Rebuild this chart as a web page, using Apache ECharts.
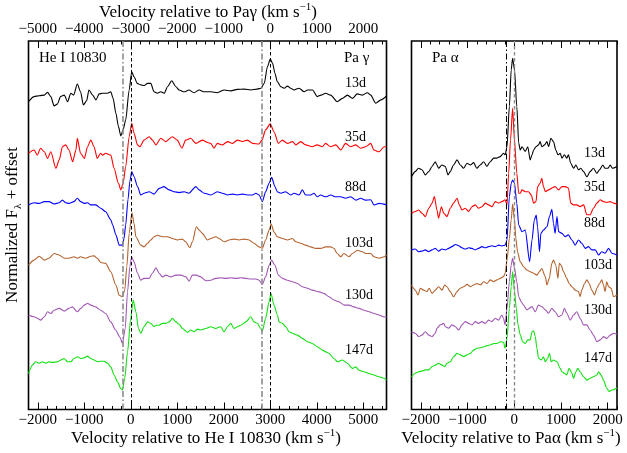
<!DOCTYPE html>
<html>
<head>
<meta charset="utf-8">
<script src="https://cdn.jsdelivr.net/npm/echarts@6/dist/echarts.min.js"></script>
<style>
  html, body { margin: 0; padding: 0; background: #fff; }
  #chart { width: 627px; height: 453px; }
</style>
</head>
<body>
<div id="chart"></div>
<script>
// Epochs (days) shown in both panels, top to bottom
const epochs = ['13d', '35d', '88d', '103d', '130d', '147d'];

// He I 10830 / Pa gamma region: [velocity rel. to He I 10830 (km/s), normalized flux + offset]
const he13d = [[-2200,10.26],[-2080,10.43],[-1970,10.46],[-1860,10.48],[-1790,10.57],[-1720,10.43],[-1650,10.12],[-1580,10.18],[-1510,10.43],[-1430,10.48],[-1360,10.26],[-1290,10.54],[-1230,10.48],[-1150,10.85],[-1080,10.59],[-1020,10.15],[-950,10.29],[-900,10.65],[-820,10.48],[-750,10.32],[-680,10.52],[-610,10.54],[-500,10.54],[-430,10.59],[-380,10.37],[-320,9.87],[-265,9.43],[-215,9.12],[-165,9.32],[-110,9.65],[-35,10.65],[20,11.26],[70,11.09],[140,10.87],[215,10.82],[290,10.80],[360,10.87],[430,10.87],[500,10.59],[570,10.54],[645,10.59],[720,10.54],[790,10.76],[880,10.96],[970,10.76],[1040,10.65],[1150,10.59],[1250,10.65],[1360,10.56],[1470,10.65],[1580,10.59],[1720,10.59],[1860,10.56],[2010,10.65],[2150,10.62],[2290,10.67],[2440,10.68],[2580,10.65],[2720,10.68],[2800,10.71],[2870,10.87],[2940,11.43],[3000,11.68],[3050,11.54],[3100,11.21],[3150,10.93],[3230,10.76],[3300,10.71],[3370,10.78],[3440,10.71],[3510,10.65],[3620,10.71],[3730,10.59],[3800,10.65],[3910,10.65],[4010,10.43],[4090,10.48],[4190,10.54],[4300,10.48],[4440,10.26],[4550,10.37],[4660,10.48],[4770,10.37],[4870,10.52],[4980,10.48],[5090,10.56],[5160,10.48],[5270,10.21],[5380,10.32],[5500,10.45]];
const he35d = [[-2200,8.54],[-2080,8.65],[-2010,8.48],[-1940,8.71],[-1860,8.59],[-1790,8.37],[-1720,8.59],[-1610,8.04],[-1540,8.32],[-1470,8.76],[-1400,8.82],[-1330,8.65],[-1250,8.26],[-1180,8.65],[-1150,9.04],[-1080,8.54],[-1000,8.37],[-930,8.76],[-860,8.98],[-790,8.76],[-720,8.37],[-650,8.54],[-610,8.48],[-540,8.54],[-430,8.48],[-360,8.04],[-265,7.54],[-215,7.32],[-165,7.54],[-110,8.09],[-35,9.09],[20,9.54],[70,9.21],[145,8.82],[195,8.76],[285,8.98],[395,9.09],[465,8.98],[540,8.82],[645,9.04],[750,8.93],[895,9.09],[1000,8.98],[1100,8.71],[1180,8.98],[1290,9.04],[1400,8.87],[1540,8.98],[1650,8.90],[1720,8.87],[1790,8.71],[1860,8.87],[1970,8.82],[2080,8.93],[2190,8.87],[2290,8.98],[2400,8.93],[2510,8.98],[2620,8.87],[2760,8.85],[2820,8.98],[2900,9.32],[3000,9.52],[3080,9.26],[3175,8.87],[3260,8.98],[3370,8.87],[3480,8.93],[3550,8.82],[3655,8.93],[3760,8.82],[3900,8.76],[4010,8.82],[4120,8.76],[4190,8.87],[4300,8.76],[4410,8.82],[4515,8.65],[4620,8.87],[4730,8.76],[4840,8.82],[4945,8.71],[5050,8.76],[5160,8.87],[5230,8.65],[5340,8.59],[5450,8.76],[5500,8.76]];
const he88d = [[-2200,6.82],[-2080,6.89],[-1970,6.87],[-1860,6.93],[-1760,6.93],[-1650,6.85],[-1540,6.89],[-1470,6.98],[-1400,6.89],[-1330,6.87],[-1220,6.93],[-1150,7.04],[-1080,6.93],[-1000,6.87],[-930,6.89],[-860,6.82],[-750,6.82],[-645,6.71],[-540,6.59],[-430,6.32],[-390,6.15],[-320,5.82],[-250,5.48],[-180,5.48],[-145,5.70],[-110,6.15],[-60,7.00],[-20,7.60],[20,7.93],[70,7.76],[145,7.43],[215,7.15],[285,7.21],[395,7.26],[500,7.18],[610,7.37],[715,7.43],[825,7.32],[930,7.26],[1040,7.23],[1150,7.26],[1250,7.21],[1400,7.43],[1470,7.32],[1580,7.21],[1720,7.15],[1860,7.26],[1970,7.21],[2080,7.15],[2190,7.18],[2290,7.15],[2400,7.18],[2510,7.15],[2620,7.15],[2690,7.21],[2760,7.15],[2830,6.93],[2900,7.26],[2975,7.54],[3030,7.74],[3100,7.43],[3150,7.26],[3225,7.21],[3330,7.26],[3440,7.15],[3510,7.21],[3620,7.15],[3690,7.32],[3760,7.15],[3870,7.15],[3940,7.21],[4010,7.09],[4085,7.15],[4190,7.09],[4300,7.15],[4410,7.09],[4515,7.09],[4620,7.04],[4730,7.09],[4840,6.98],[4945,7.04],[5050,6.98],[5160,6.99],[5230,6.82],[5340,6.87],[5500,6.82]];
const he103d = [[-2200,4.81],[-2080,4.98],[-1970,5.11],[-1860,4.98],[-1760,5.04],[-1650,5.20],[-1540,5.15],[-1430,5.04],[-1330,5.04],[-1220,5.09],[-1150,5.04],[-1080,5.09],[-970,5.04],[-860,5.11],[-790,5.12],[-720,5.04],[-645,4.90],[-540,4.87],[-430,4.59],[-320,4.15],[-250,3.81],[-180,3.76],[-130,3.98],[-85,4.76],[-35,5.87],[25,6.56],[70,6.20],[110,5.76],[215,5.48],[285,5.42],[360,5.54],[430,5.65],[500,5.76],[575,5.81],[680,5.76],[790,5.76],[895,5.70],[1000,5.65],[1110,5.68],[1180,5.59],[1270,5.39],[1325,5.59],[1410,6.09],[1470,5.98],[1540,5.87],[1650,5.65],[1720,5.70],[1830,5.76],[1900,5.70],[2010,5.59],[2115,5.65],[2220,5.68],[2330,5.65],[2440,5.68],[2545,5.65],[2650,5.54],[2760,5.42],[2830,5.37],[2900,5.65],[2975,5.98],[3020,6.18],[3080,5.92],[3150,5.76],[3260,5.70],[3370,5.65],[3475,5.70],[3550,5.59],[3655,5.54],[3760,5.48],[3870,5.42],[3980,5.37],[4085,5.37],[4190,5.42],[4300,5.42],[4370,5.37],[4440,5.20],[4515,5.09],[4585,5.20],[4695,5.09],[4765,5.20],[4875,5.31],[4980,5.26],[5050,5.20],[5160,5.20],[5230,5.09],[5340,5.04],[5450,5.09],[5500,5.15]];
const he130d = [[-2200,3.15],[-2080,3.09],[-2010,3.04],[-1935,2.98],[-1860,3.09],[-1790,3.26],[-1720,3.20],[-1650,3.31],[-1540,3.37],[-1430,3.28],[-1330,3.37],[-1255,3.42],[-1150,3.26],[-1075,3.37],[-1000,3.48],[-930,3.54],[-860,3.48],[-755,3.42],[-645,3.31],[-540,3.20],[-430,2.92],[-325,2.65],[-230,2.40],[-180,2.20],[-120,2.70],[-70,3.92],[-20,4.76],[20,5.09],[70,4.92],[145,4.54],[215,4.31],[285,4.37],[395,4.37],[465,4.54],[540,4.72],[610,4.54],[680,4.42],[755,4.48],[860,4.42],[970,4.48],[1075,4.48],[1185,4.42],[1255,4.28],[1325,4.48],[1410,4.48],[1505,4.42],[1615,4.29],[1720,4.31],[1825,4.37],[1935,4.39],[2045,4.37],[2150,4.39],[2260,4.37],[2365,4.39],[2475,4.37],[2580,4.35],[2690,4.35],[2760,4.31],[2830,4.17],[2900,4.42],[2975,4.81],[3030,4.98],[3100,4.81],[3175,4.48],[3260,4.37],[3370,4.31],[3475,4.26],[3585,4.20],[3690,4.09],[3800,4.04],[3905,3.98],[4050,3.92],[4155,3.87],[4265,3.76],[4370,3.65],[4480,3.59],[4585,3.48],[4695,3.48],[4800,3.42],[4910,3.37],[5015,3.31],[5125,3.26],[5230,3.20],[5340,3.15],[5445,3.09],[5500,3.07]];
const he147d = [[-2200,1.20],[-2115,1.48],[-2045,1.59],[-1970,1.54],[-1900,1.59],[-1825,1.54],[-1755,1.59],[-1685,1.57],[-1575,1.59],[-1505,1.65],[-1435,1.70],[-1360,1.59],[-1290,1.59],[-1220,1.70],[-1145,1.76],[-1075,1.70],[-1005,1.72],[-930,1.78],[-860,1.70],[-790,1.65],[-715,1.59],[-645,1.61],[-575,1.61],[-500,1.54],[-430,1.42],[-360,1.15],[-285,0.92],[-215,0.70],[-180,0.65],[-130,1.04],[-70,1.92],[0,3.04],[50,3.65],[110,3.26],[165,2.70],[215,2.54],[285,2.76],[360,2.92],[430,2.87],[500,2.76],[550,2.81],[610,2.81],[680,2.87],[755,2.87],[825,2.92],[895,3.04],[970,2.92],[1040,2.84],[1110,2.70],[1220,2.57],[1290,2.65],[1360,2.59],[1435,2.68],[1505,2.65],[1615,2.70],[1720,2.76],[1825,2.70],[1935,2.76],[2005,2.59],[2080,2.76],[2150,2.87],[2220,2.70],[2295,2.76],[2365,2.81],[2475,2.92],[2580,3.09],[2650,2.92],[2725,2.87],[2795,2.70],[2830,2.61],[2900,3.04],[2975,3.59],[3015,3.87],[3080,3.48],[3155,3.15],[3190,2.92],[3260,2.87],[3335,2.76],[3405,2.59],[3475,2.54],[3585,2.48],[3690,2.37],[3800,2.26],[3905,2.20],[4015,2.09],[4120,1.98],[4195,1.92],[4265,1.87],[4370,1.70],[4445,1.59],[4550,1.65],[4660,1.54],[4765,1.37],[4840,1.42],[4910,1.31],[5015,1.26],[5125,1.20],[5230,1.15],[5340,1.09],[5445,1.04],[5500,0.98]];

// Pa alpha region: [velocity rel. to Pa alpha (km/s), normalized flux + offset]
const pa13d = [[-2200,7.76],[-2120,7.93],[-2050,8.04],[-1975,7.99],[-1905,7.82],[-1830,7.93],[-1760,8.10],[-1690,8.26],[-1655,8.15],[-1620,8.04],[-1550,8.15],[-1475,8.10],[-1420,7.82],[-1370,7.93],[-1300,8.15],[-1225,8.32],[-1155,8.15],[-1085,8.04],[-1010,8.21],[-940,8.15],[-870,8.23],[-800,8.04],[-730,8.15],[-655,8.26],[-585,8.10],[-515,8.26],[-440,8.38],[-370,8.38],[-300,8.43],[-230,8.54],[-195,8.49],[-155,8.76],[-105,10.10],[-65,11.32],[-35,11.71],[5,11.32],[55,10.10],[95,8.88],[130,8.65],[165,8.76],[235,8.60],[290,8.76],[340,8.32],[380,8.49],[415,8.65],[465,8.76],[520,8.82],[555,8.93],[590,8.76],[650,8.82],[700,8.93],[735,8.76],[785,9.04],[840,8.93],[890,8.65],[935,8.49],[985,8.54],[1020,8.38],[1075,8.49],[1125,8.38],[1160,8.49],[1210,8.21],[1270,8.04],[1320,8.15],[1375,7.99],[1425,8.04],[1485,7.93],[1555,7.76],[1625,7.93],[1695,8.04],[1770,7.87],[1825,7.99],[1895,8.15],[1945,8.04],[2005,8.04],[2055,8.15],[2105,8.04],[2200,8.10]];
const pa35d = [[-2200,6.54],[-2120,6.60],[-2045,6.65],[-1975,6.54],[-1905,6.43],[-1830,6.71],[-1760,6.88],[-1710,7.10],[-1655,6.65],[-1620,6.38],[-1560,6.76],[-1510,6.54],[-1440,6.43],[-1370,6.71],[-1300,6.88],[-1225,7.04],[-1175,6.82],[-1120,6.65],[-1050,6.71],[-975,6.60],[-905,6.76],[-835,6.82],[-765,6.71],[-690,6.76],[-620,6.88],[-550,6.82],[-480,6.76],[-405,6.93],[-335,6.88],[-265,6.93],[-195,6.99],[-155,6.82],[-120,7.87],[-80,8.98],[-35,10.04],[5,8.98],[55,7.87],[95,7.21],[130,7.21],[165,7.32],[235,7.26],[305,7.26],[365,7.15],[415,6.88],[465,6.93],[500,7.43],[555,7.54],[590,7.71],[625,7.43],[665,7.26],[735,7.32],[805,7.38],[875,7.43],[950,7.32],[1020,7.43],[1090,7.43],[1160,7.38],[1210,6.88],[1270,6.82],[1340,6.82],[1410,6.76],[1485,6.82],[1555,6.49],[1625,6.49],[1695,6.71],[1770,6.88],[1840,6.99],[1910,6.93],[1980,6.90],[2055,6.93],[2125,6.88],[2200,6.85]];
const pa88d = [[-2200,5.32],[-2120,5.35],[-2045,5.26],[-1975,5.28],[-1905,5.32],[-1835,5.26],[-1760,5.32],[-1690,5.37],[-1620,5.28],[-1545,5.35],[-1475,5.32],[-1405,5.37],[-1335,5.43],[-1260,5.50],[-1190,5.46],[-1120,5.39],[-1050,5.35],[-975,5.39],[-905,5.37],[-835,5.32],[-765,5.37],[-690,5.43],[-620,5.39],[-550,5.43],[-480,5.46],[-405,5.43],[-335,5.48],[-265,5.45],[-195,5.48],[-155,5.65],[-105,7.09],[-65,7.54],[-35,7.65],[5,7.54],[55,6.87],[95,6.15],[165,5.93],[235,5.98],[330,4.93],[380,5.65],[430,6.32],[470,6.48],[500,6.09],[540,5.26],[570,5.87],[625,5.98],[700,6.09],[755,6.43],[805,6.67],[840,6.21],[875,5.87],[915,6.43],[950,5.93],[1020,5.87],[1090,5.76],[1160,5.82],[1235,5.65],[1305,5.48],[1375,5.65],[1445,5.54],[1520,5.37],[1590,5.43],[1660,5.32],[1735,5.32],[1805,5.15],[1875,5.26],[1945,5.21],[2020,5.37],[2090,5.21],[2200,5.15]];
const pa103d = [[-2200,4.15],[-2120,3.98],[-2060,3.82],[-2010,4.04],[-1940,3.98],[-1870,3.93],[-1820,4.04],[-1760,3.87],[-1690,3.98],[-1620,4.09],[-1545,3.98],[-1490,4.15],[-1440,4.09],[-1370,3.93],[-1300,3.76],[-1225,3.93],[-1155,4.04],[-1085,4.09],[-1010,4.17],[-940,4.09],[-870,4.15],[-800,4.20],[-725,4.15],[-655,4.26],[-585,4.20],[-515,4.32],[-440,4.26],[-370,4.32],[-300,4.37],[-230,4.43],[-195,4.54],[-150,5.04],[-105,5.70],[-65,6.32],[-35,6.85],[5,6.32],[35,5.70],[70,5.26],[130,4.92],[200,4.76],[270,4.65],[340,4.59],[415,4.54],[485,4.48],[535,4.59],[590,4.70],[665,4.43],[700,4.15],[750,4.37],[805,4.87],[840,4.98],[890,4.81],[935,4.37],[965,4.87],[1005,4.81],[1055,4.59],[1125,4.37],[1175,4.20],[1235,4.09],[1305,3.98],[1375,3.93],[1410,3.76],[1445,3.98],[1505,4.20],[1555,4.32],[1605,4.20],[1660,3.98],[1720,3.82],[1770,4.04],[1825,4.20],[1875,4.32],[1910,4.15],[1945,3.93],[1980,4.26],[2020,4.09],[2075,4.04],[2125,3.76],[2200,3.82]];
const pa130d = [[-2200,2.59],[-2120,2.54],[-2045,2.43],[-1975,2.48],[-1905,2.59],[-1830,2.48],[-1760,2.43],[-1690,2.54],[-1655,2.71],[-1585,2.82],[-1510,2.87],[-1475,2.76],[-1405,2.71],[-1335,2.82],[-1260,2.76],[-1190,2.65],[-1120,2.82],[-1050,2.93],[-975,2.87],[-905,2.82],[-835,2.93],[-765,2.87],[-690,2.93],[-620,2.87],[-550,2.98],[-480,2.93],[-405,3.04],[-335,2.98],[-265,3.15],[-230,3.04],[-195,2.82],[-155,3.37],[-105,4.26],[-65,4.82],[-35,5.04],[5,4.71],[55,4.26],[95,3.76],[150,3.59],[200,3.48],[270,3.32],[320,3.37],[380,3.43],[450,3.26],[520,3.48],[590,3.43],[665,3.32],[735,3.21],[805,3.37],[875,3.26],[950,3.09],[1020,3.15],[1075,3.37],[1125,3.21],[1200,2.98],[1270,3.15],[1340,3.26],[1410,3.04],[1485,2.82],[1555,2.82],[1625,2.65],[1695,2.48],[1770,2.26],[1840,2.32],[1910,2.43],[1980,2.37],[2055,2.48],[2125,2.54],[2200,2.51]];
const pa147d = [[-2200,1.09],[-2120,1.21],[-2045,1.26],[-1975,1.28],[-1905,1.32],[-1830,1.32],[-1760,1.43],[-1690,1.48],[-1620,1.54],[-1545,1.48],[-1490,1.43],[-1440,1.54],[-1370,1.59],[-1300,1.76],[-1225,1.87],[-1155,1.82],[-1085,1.76],[-1010,1.82],[-940,1.87],[-870,1.98],[-800,2.04],[-725,2.06],[-655,2.09],[-585,2.13],[-515,2.15],[-440,2.20],[-370,2.20],[-300,2.26],[-230,2.24],[-195,2.04],[-155,2.37],[-105,3.37],[-65,4.10],[-35,4.60],[5,3.93],[45,3.37],[80,2.82],[130,2.48],[180,2.26],[235,2.20],[290,2.32],[340,2.32],[380,2.59],[415,2.62],[450,2.43],[485,2.04],[520,1.71],[580,1.65],[625,1.76],[665,1.59],[715,1.71],[755,1.87],[790,1.59],[840,1.65],[915,1.59],[985,1.37],[1020,1.26],[1075,1.21],[1125,1.15],[1175,1.37],[1235,1.21],[1270,1.04],[1320,1.26],[1360,1.37],[1410,1.26],[1485,1.09],[1555,0.98],[1625,1.04],[1695,1.09],[1770,1.15],[1805,1.26],[1860,1.15],[1910,0.98],[1980,0.71],[2030,0.60],[2090,0.65],[2200,0.72]];

// Tick values for each velocity scale
const heMajorTicks = [-2000, -1000, 0, 1000, 2000, 3000, 4000, 5000];
const pgMajorTicks = [-5000, -4000, -3000, -2000, -1000, 0, 1000, 2000];
const paMajorTicks = [-2000, -1000, 0, 1000, 2000];

// Velocity of Pa gamma on the He I 10830 scale, and absorption/emission markers
const PG_SHIFT = 3000;
const heMarks = { absorption: [-180, 2820], rest: [0, 3000] };
const paMarks = { absorption: [-180], rest: [0] };

// ---- layout and style ----
const SERIF = "'Liberation Serif', 'Times New Roman', 'DejaVu Serif', serif";
const colors = ['#000000', '#ff0000', '#0000ff', '#b3622e', '#a057b3', '#11e011'];
const heRange = [-2200, 5500];
const paRange = [-2200, 2200];
const fluxRange = [0, 12.283];

function steps(a, b, s) { const r = []; for (let v = a; v <= b + 1e-9; v += s) r.push(v); return r; }
const fmt = v => (v < 0 ? '\u2212' + Math.abs(v) : String(v));

function tickAxis(gridIndex, position, range, ticks, len, labels) {
  return {
    type: 'value', gridIndex, position, min: range[0], max: range[1],
    axisLine: { show: false }, splitLine: { show: false },
    axisTick: { show: true, inside: true, length: len, customValues: ticks,
      lineStyle: { color: '#000', width: 1 } },
    axisLabel: { show: labels, customValues: ticks, formatter: fmt, color: '#000',
      fontSize: 15, fontFamily: SERIF, margin: position === 'top' ? 4 : 3 }
  };
}

const pgRange = [heRange[0] - PG_SHIFT, heRange[1] - PG_SHIFT];
const xAxes = [
  tickAxis(0, 'bottom', heRange, heMajorTicks, 7, true),
  tickAxis(0, 'bottom', heRange, steps(-2200, 5400, 200), 3.5, false),
  tickAxis(0, 'top', pgRange, pgMajorTicks, 7, true),
  tickAxis(0, 'top', pgRange, steps(-5200, 2400, 200), 3.5, false),
  tickAxis(1, 'bottom', paRange, paMajorTicks, 7, true),
  tickAxis(1, 'bottom', paRange, steps(-2200, 2200, 200), 3.5, false),
  tickAxis(1, 'top', paRange, paMajorTicks, 7, false),
  tickAxis(1, 'top', paRange, steps(-2200, 2200, 200), 3.5, false)
];

const dashDot = (color, width) => ({ type: [6, 2.5, 1.5, 2.5], color, width });
const dashed = (color, width) => ({ type: [3.5, 2.5], color, width });

function markLines(marks, absStyle, restStyle) {
  const data = [];
  marks.absorption.forEach(v => data.push({ xAxis: v, lineStyle: absStyle }));
  marks.rest.forEach(v => data.push({ xAxis: v, lineStyle: restStyle }));
  return { silent: true, symbol: ['none', 'none'], label: { show: false }, animation: false, data };
}

const lineBase = { type: 'line', showSymbol: false, symbol: 'none', smooth: 0.25, smoothMonotone: 'x', z: 3 };
const heSpectra = [he13d, he35d, he88d, he103d, he130d, he147d];
const paSpectra = [pa13d, pa35d, pa88d, pa103d, pa130d, pa147d];
const series = [];
heSpectra.forEach((d, i) => series.push(Object.assign({}, lineBase, {
  name: 'He ' + epochs[i], xAxisIndex: 0, yAxisIndex: 0, data: d,
  lineStyle: { color: colors[i], width: 1.1 },
  markLine: i === 0 ? markLines(heMarks, dashDot('#8c8c8c', 1.6), dashed('#000', 1)) : undefined
})));
paSpectra.forEach((d, i) => series.push(Object.assign({}, lineBase, {
  name: 'Pa ' + epochs[i], xAxisIndex: 4, yAxisIndex: 1, data: d,
  lineStyle: { color: colors[i], width: 1.1 },
  markLine: i === 0 ? markLines(paMarks, dashDot('#000', 1), dashed('#8c8c8c', 1.4)) : undefined
})));

// Text annotations
const heLabelY = [83, 137, 187, 243, 295, 350];
const paLabelY = [153, 187, 223, 265, 310, 358];
const txt = (x, y, text, size, align) => ({
  type: 'text', x, y, silent: true,
  style: { text, fontFamily: SERIF, fontSize: size, fill: '#000', align: align || 'left', verticalAlign: 'middle' }
});
const richStyle = {
  sup: { fontSize: 11, fontFamily: SERIF, fill: '#000', verticalAlign: 'top', lineHeight: 11 },
  sub: { fontSize: 11, fontFamily: SERIF, fill: '#000', verticalAlign: 'bottom', lineHeight: 11 }
};
const richTxt = (x, y, text, rotation) => ({
  type: 'text', x, y, rotation: rotation || 0, silent: true,
  style: { text, rich: richStyle, fontFamily: SERIF, fontSize: 17, lineHeight: 22, fill: '#000',
    align: 'center', verticalAlign: 'middle' }
});

const graphics = [
  txt(39, 58, 'He I 10830', 15),
  txt(344, 58, 'Pa \u03b3', 15),
  txt(432, 58, 'Pa \u03b1', 15),
  richTxt(208, 13, 'Velocity relative to Pa\u03b3 (km s{sup|\u22121})'),
  richTxt(206, 439, 'Velocity relative to He I 10830 (km s{sup|\u22121})'),
  richTxt(511, 439, 'Velocity relative to Pa\u03b1 (km s{sup|\u22121})'),
  richTxt(13, 225, 'Normalized F{sub|\u03bb} + offset', Math.PI / 2)
];
epochs.forEach((e, i) => {
  graphics.push(txt(345, heLabelY[i], e, 14));
  graphics.push(txt(584, paLabelY[i], e, 14));
});

const chart = echarts.init(document.getElementById('chart'), null, { renderer: 'canvas' });
chart.setOption({
  animation: false,
  backgroundColor: '#fff',
  grid: [
    { left: 28.5, top: 41, width: 358, height: 368.5, show: true, borderColor: '#000', borderWidth: 1.6, backgroundColor: 'transparent' },
    { left: 411.5, top: 41, width: 205.5, height: 368.5, show: true, borderColor: '#000', borderWidth: 1.6, backgroundColor: 'transparent' }
  ],
  xAxis: xAxes,
  yAxis: [
    { type: 'value', gridIndex: 0, min: fluxRange[0], max: fluxRange[1], show: false },
    { type: 'value', gridIndex: 1, min: fluxRange[0], max: fluxRange[1], show: false }
  ],
  series,
  graphic: graphics
});
</script>
</body>
</html>
